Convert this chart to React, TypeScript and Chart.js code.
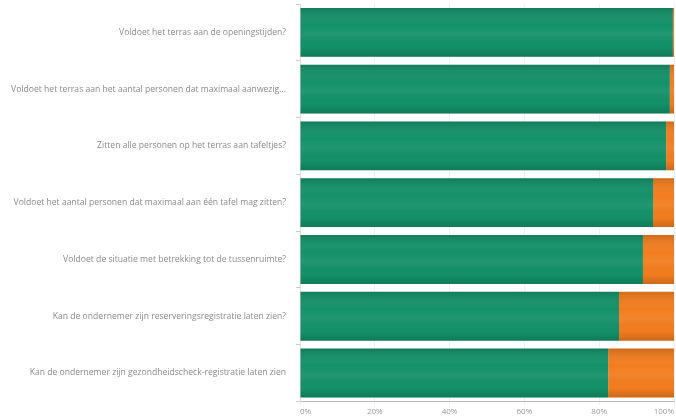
import React, { useEffect, useRef } from "react";
import { Chart, registerables } from "chart.js";

Chart.register(...registerables);

const categories = [
  "Voldoet het terras aan de openingstijden?",
  "Voldoet het terras aan het aantal personen dat maximaal aanwezig...",
  "Zitten alle personen op het terras aan tafeltjes?",
  "Voldoet het aantal personen dat maximaal aan één tafel mag zitten?",
  "Voldoet de situatie met betrekking tot de tussenruimte?",
  "Kan de ondernemer zijn reserveringsregistratie laten zien?",
  "Kan de ondernemer zijn gezondheidscheck-registratie laten zien",
];
const greenValues = [99.7, 98.9, 97.9, 94.4, 91.7, 85.3, 82.4];
const orangeValues = [0.3, 1.1, 2.1, 5.6, 8.3, 14.7, 17.6];
const xTicks = [0, 20, 40, 60, 80, 100];

const glossPlugin = {
  id: "gloss",
  afterDatasetsDraw(chart: any) {
    const ctx = chart.ctx;
    chart.data.datasets.forEach((_: any, i: number) => {
      const meta = chart.getDatasetMeta(i);
      meta.data.forEach((bar: any) => {
        const p = bar.getProps(["x", "y", "base", "height"], true);
        const top = p.y - p.height / 2;
        const left = Math.min(p.x, p.base);
        const w = Math.abs(p.x - p.base);
        const g = ctx.createLinearGradient(0, top, 0, top + p.height);
        g.addColorStop(0, "rgba(0,0,0,0.14)");
        g.addColorStop(0.35, "rgba(255,255,255,0.0)");
        g.addColorStop(0.55, "rgba(255,255,255,0.06)");
        g.addColorStop(0.8, "rgba(0,0,0,0.0)");
        g.addColorStop(1, "rgba(0,0,0,0.16)");
        ctx.save();
        ctx.fillStyle = g;
        ctx.fillRect(left, top, w, p.height);
        ctx.restore();
      });
    });
  },
};

export default function App() {
  const ref = useRef<HTMLCanvasElement>(null);
  useEffect(() => {
    document.body.style.margin = "0";
    document.body.style.overflow = "hidden";
    const chart = new Chart(ref.current!, {
      type: "bar",
      data: {
        labels: categories,
        datasets: [
          {
            label: "Ja",
            data: greenValues,
            backgroundColor: "#149169",
            barPercentage: 0.86,
            categoryPercentage: 1,
          },
          {
            label: "Nee",
            data: orangeValues,
            backgroundColor: "#f27d1f",
            barPercentage: 0.86,
            categoryPercentage: 1,
          },
        ],
      },
      plugins: [glossPlugin],
      options: {
        indexAxis: "y",
        animation: false,
        responsive: false,
        layout: { padding: { top: 4, right: 0, left: 0, bottom: 0 } },
        plugins: { legend: { display: false }, tooltip: { enabled: false }, title: { display: false } },
        scales: {
          x: {
            stacked: true,
            min: 0,
            max: 100,
            afterBuildTicks: (s: any) => {
              s.ticks = xTicks.map((v) => ({ value: v }));
            },
            ticks: {
              align: "inner",
              color: "#999",
              font: { family: "Open Sans", size: 8 },
              callback: (v: any) => v + "%",
              padding: 2,
            },
            grid: { color: "rgba(0,0,0,0.06)", tickLength: 4 },
            border: { color: "#bbb" },
          },
          y: {
            stacked: true,
            afterFit: (s: any) => {
              s.width = 300;
              s.paddingTop = 0;
              s.paddingBottom = 0;
            },
            ticks: {
              color: "#8a8a8a",
              font: { family: "Open Sans", size: 8.6 },
              padding: 10,
            },
            grid: { drawOnChartArea: false, tickLength: 4, color: "#ccc" },
            border: { color: "#ddd" },
          },
        },
      },
    });
    return () => chart.destroy();
  }, []);
  return (
    <div style={{ position: "absolute", left: 0, top: 0, width: 676, height: 419 }}>
      <canvas ref={ref} width={676} height={419} />
    </div>
  );
}
